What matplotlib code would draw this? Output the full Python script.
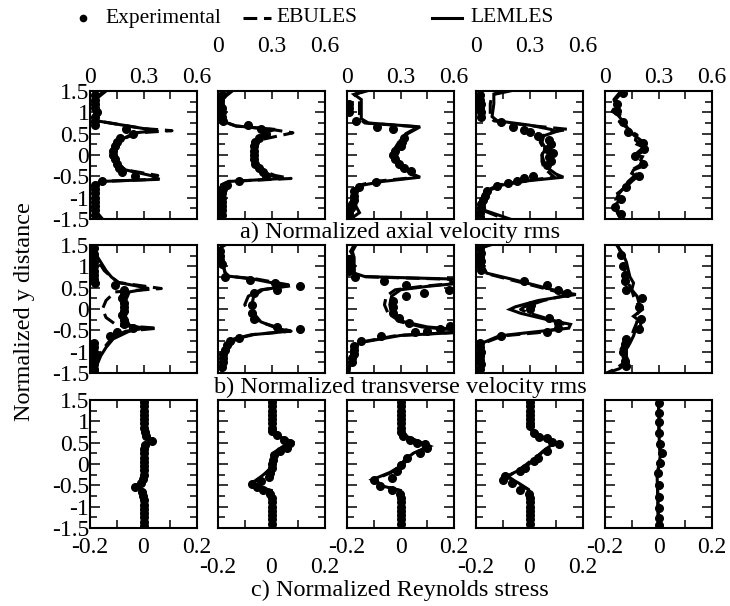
import matplotlib.pyplot as plt
from matplotlib.lines import Line2D
import numpy as np

plt.rcParams['font.family'] = ['Liberation Serif', 'DejaVu Serif']
plt.rcParams['font.size'] = 17
plt.rcParams['axes.linewidth'] = 1.5

# ---------------- a) axial velocity rms ----------------
a1_exp_y = [1.4, 1.3, 1.2, 1.1, 1.0, 0.9, 0.8, 0.7, 0.6, 0.5, 0.4, 0.3, 0.2, 0.1, 0.0,
            -0.1, -0.2, -0.3, -0.4, -0.5, -0.6, -0.7, -0.8, -0.9, -1.0, -1.1, -1.2, -1.3, -1.4]
a1_exp_x = [0.03, 0.03, 0.03, 0.03, 0.04, 0.03, 0.03, 0.03, 0.2, 0.24, 0.17, 0.15, 0.14, 0.13, 0.13,
            0.14, 0.15, 0.16, 0.18, 0.25, 0.07, 0.03, 0.03, 0.03, 0.03, 0.03, 0.03, 0.03, 0.03]
a1_mod_y = [1.5, 1.4, 1.3, 1.0, 0.8, 0.62, 0.57, 0.52, 0.35, 0.15, 0.0, -0.2, -0.35, -0.48, -0.57,
            -0.62, -0.7, -1.0, -1.3, -1.5]
a1_les_x = [0.09, 0.06, 0.03, 0.03, 0.04, 0.3, 0.38, 0.25, 0.17, 0.14, 0.14, 0.15, 0.2, 0.34, 0.39,
            0.06, 0.03, 0.02, 0.03, 0.07]
a1_ebu_x = [0.08, 0.05, 0.03, 0.03, 0.04, 0.3, 0.46, 0.27, 0.17, 0.14, 0.13, 0.15, 0.2, 0.38, 0.36,
            0.06, 0.03, 0.02, 0.03, 0.06]

a2_exp_y = a1_exp_y
a2_exp_x = [0.02, 0.01, 0.01, 0.02, 0.02, 0.02, 0.03, 0.17, 0.24, 0.27, 0.23, 0.21, 0.2, 0.2, 0.2,
            0.2, 0.21, 0.23, 0.25, 0.27, 0.12, 0.05, 0.03, 0.02, 0.02, 0.02, 0.02, 0.02, 0.02]
a2_mod_y = [1.5, 1.4, 1.3, 1.0, 0.8, 0.68, 0.6, 0.52, 0.35, 0.15, 0.0, -0.2, -0.35, -0.48, -0.55,
            -0.62, -0.7, -1.0, -1.3, -1.5]
a2_les_x = [0.08, 0.05, 0.02, 0.02, 0.02, 0.1, 0.32, 0.26, 0.22, 0.2, 0.2, 0.21, 0.23, 0.3, 0.37,
            0.06, 0.02, 0.01, 0.01, 0.02]
a2_ebu_x = [0.07, 0.04, 0.02, 0.02, 0.02, 0.1, 0.3, 0.42, 0.23, 0.21, 0.2, 0.21, 0.24, 0.32, 0.41,
            0.06, 0.02, 0.01, 0.01, 0.02]

a3_exp_y = [1.2, 1.1, 1.0, 0.8, 0.66, 0.6, 0.4, 0.3, 0.2, 0.1, 0.0, -0.1, -0.2, -0.3, -0.38,
            -0.63, -0.74, -0.85, -0.95, -1.05, -1.15, -1.25, -1.35, -1.45]
a3_exp_x = [0.01, 0.01, 0.01, 0.05, 0.17, 0.26, 0.32, 0.31, 0.3, 0.27, 0.26, 0.27, 0.29, 0.32, 0.36,
            0.16, 0.07, 0.04, 0.04, 0.04, 0.03, 0.02, 0.01, 0.01]
a3_mod_y = [1.5, 1.42, 1.3, 1.0, 0.85, 0.75, 0.66, 0.5, 0.3, 0.1, -0.1, -0.3, -0.45, -0.52, -0.62,
            -0.72, -0.9, -1.2, -1.35, -1.5]
a3_les_x = [0.11, 0.04, 0.08, 0.08, 0.08, 0.12, 0.41, 0.34, 0.3, 0.28, 0.28, 0.31, 0.37, 0.41, 0.2,
            0.07, 0.05, 0.05, 0.07, 0.02]
a3_ebu_x = [0.1, 0.04, 0.07, 0.07, 0.07, 0.1, 0.4, 0.33, 0.29, 0.26, 0.27, 0.3, 0.36, 0.4, 0.15,
            0.06, 0.04, 0.04, 0.04, 0.03]

a4_exp_y = [1.4, 1.3, 1.2, 1.1, 1.0, 0.9, 0.78, 0.66, 0.59, 0.55, 0.45, 0.35, 0.25, 0.15, 0.05,
            -0.05, -0.15, -0.23, -0.49, -0.55, -0.6, -0.66, -0.73, -0.85, -0.95, -1.05, -1.15,
            -1.25, -1.35, -1.45]
a4_exp_x = [0.02, 0.02, 0.03, 0.02, 0.03, 0.03, 0.14, 0.21, 0.27, 0.3, 0.35, 0.41, 0.42, 0.4, 0.43,
            0.41, 0.42, 0.4, 0.32, 0.27, 0.23, 0.18, 0.12, 0.06, 0.05, 0.04, 0.03, 0.03, 0.02, 0.02]
a4_mod_y = [1.5, 1.42, 1.2, 0.9, 0.8, 0.7, 0.6, 0.55, 0.45, 0.3, 0.15, 0.0, -0.15, -0.3, -0.45,
            -0.52, -0.6, -0.7, -0.85, -1.1, -1.3, -1.5]
a4_les_x = [0.19, 0.1, 0.1, 0.09, 0.12, 0.3, 0.42, 0.45, 0.38, 0.37, 0.39, 0.37, 0.38, 0.4, 0.45,
            0.49, 0.3, 0.15, 0.06, 0.04, 0.05, 0.19]
a4_ebu_x = [0.17, 0.09, 0.08, 0.08, 0.1, 0.28, 0.52, 0.44, 0.37, 0.36, 0.38, 0.37, 0.37, 0.38, 0.42,
            0.44, 0.28, 0.13, 0.05, 0.03, 0.04, 0.16]

a5_exp_y = [1.45, 1.2, 1.02, 0.78, 0.55, 0.28, 0.13, -0.02, -0.21, -0.49, -0.74, -1.02, -1.21, -1.38]
a5_exp_x = [0.1, 0.066, 0.066, 0.1, 0.13, 0.215, 0.22, 0.17, 0.215, 0.19, 0.12, 0.09, 0.055, 0.09]
a5_mod_y = [1.5, 1.4, 1.3, 1.15, 1.02, 0.9, 0.78, 0.68, 0.59, 0.47, 0.35, 0.25, 0.16, 0.05, 0.0,
            -0.04, -0.12, -0.23, -0.35, -0.43, -0.51, -0.62, -0.74, -0.9, -1.05, -1.2, -1.37, -1.48]
a5_les_x = [0.1, 0.08, 0.06, 0.07, 0.05, 0.08, 0.1, 0.11, 0.14, 0.16, 0.2, 0.18, 0.23, 0.2, 0.16,
            0.21, 0.2, 0.23, 0.16, 0.15, 0.18, 0.15, 0.12, 0.07, 0.085, 0.05, 0.085, 0.1]
a5_ebu_x = [0.09, 0.07, 0.05, 0.06, 0.04, 0.1, 0.08, 0.12, 0.13, 0.18, 0.17, 0.2, 0.21, 0.18, 0.17,
            0.19, 0.22, 0.2, 0.15, 0.17, 0.16, 0.13, 0.11, 0.08, 0.06, 0.06, 0.07, 0.09]

# ---------------- b) transverse velocity rms ----------------
b1_exp_y = [1.42, 1.3, 1.2, 1.1, 1.0, 0.9, 0.8, 0.7, 0.62, 0.57, 0.45, 0.35, 0.25, 0.15, 0.05,
            -0.05, -0.15, -0.25, -0.35, -0.44, -0.54, -0.63, -0.8, -0.9, -1.0, -1.1, -1.2, -1.3,
            -1.4, -1.48]
b1_exp_x = [0.02, 0.02, 0.02, 0.02, 0.02, 0.02, 0.02, 0.02, 0.03, 0.14, 0.19, 0.19, 0.18, 0.19, 0.19,
            0.19, 0.18, 0.19, 0.19, 0.24, 0.15, 0.11, 0.02, 0.02, 0.02, 0.02, 0.02, 0.02, 0.02, 0.02]
b1_mod_y = [1.5, 1.4, 1.3, 1.1, 0.9, 0.75, 0.62, 0.55, 0.48, 0.4, 0.2, 0.0, -0.2, -0.38, -0.45,
            -0.52, -0.7, -0.9, -1.1, -1.3, -1.5]
b1_les_x = [0.04, 0.02, 0.03, 0.06, 0.09, 0.12, 0.16, 0.25, 0.33, 0.22, 0.2, 0.2, 0.2, 0.22, 0.3,
            0.22, 0.13, 0.09, 0.06, 0.04, 0.03]
b1_ebu_x = [0.03, 0.02, 0.03, 0.05, 0.08, 0.12, 0.16, 0.28, 0.4, 0.14, 0.09, 0.07, 0.09, 0.15, 0.38,
            0.2, 0.12, 0.08, 0.05, 0.04, 0.03]

b2_exp_y = [1.35, 1.25, 1.15, 1.05, 0.75, 0.69, 0.61, 0.53, 0.45, 0.38, 0.1, -0.1, -0.24, -0.42,
            -0.48, -0.67, -0.75, -0.85, -0.95, -1.05, -1.15, -1.25, -1.35]
b2_exp_x = [0.01, 0.01, 0.01, 0.02, 0.04, 0.18, 0.32, 0.46, 0.33, 0.2, 0.19, 0.19, 0.2, 0.33,
            0.46, 0.12, 0.07, 0.05, 0.04, 0.03, 0.03, 0.03, 0.02]
b2_mod_y = [1.5, 1.4, 1.2, 1.0, 0.85, 0.77, 0.7, 0.6, 0.55, 0.45, 0.3, 0.1, -0.1, -0.3, -0.45,
            -0.52, -0.6, -0.7, -0.9, -1.1, -1.3, -1.5]
b2_les_x = [0.04, 0.0, 0.02, 0.03, 0.04, 0.06, 0.2, 0.32, 0.4, 0.25, 0.2, 0.19, 0.2, 0.24, 0.33,
            0.4, 0.2, 0.1, 0.06, 0.04, 0.03, 0.02]
b2_ebu_x = [0.03, 0.01, 0.02, 0.03, 0.04, 0.06, 0.22, 0.35, 0.42, 0.24, 0.17, 0.15, 0.18, 0.23, 0.35,
            0.41, 0.19, 0.09, 0.05, 0.04, 0.03, 0.02]

b3_exp_y = [1.18, 1.08, 0.98, 0.88, 0.76, 0.65, 0.57, 0.45, 0.38, 0.3, 0.18, 0.05, -0.09, -0.2,
            -0.32, -0.4, -0.48, -0.52, -0.55, -0.63, -0.75, -0.86, -0.96, -1.06, -1.16, -1.25]
b3_exp_x = [0.01, 0.01, 0.01, 0.01, 0.045, 0.21, 0.33, 0.57, 0.43, 0.33, 0.26, 0.26, 0.26, 0.29,
            0.35, 0.58, 0.52, 0.45, 0.38, 0.19, 0.08, 0.04, 0.04, 0.04, 0.03, 0.03]
b3_mod_y = [1.5, 1.35, 1.2, 1.0, 0.84, 0.76, 0.73, 0.7, 0.6, 0.53, 0.45, 0.3, 0.1, -0.1, -0.3,
            -0.42, -0.48, -0.55, -0.62, -0.79, -1.0, -1.2, -1.48]
b3_les_x = [0.04, 0.02, 0.04, 0.04, 0.04, 0.1, 0.35, 0.62, 0.62, 0.45, 0.3, 0.25, 0.24, 0.25, 0.32,
            0.45, 0.62, 0.62, 0.3, 0.07, 0.03, 0.02, 0.01]
b3_ebu_x = [0.05, 0.03, 0.04, 0.04, 0.04, 0.08, 0.3, 0.57, 0.6, 0.42, 0.27, 0.22, 0.21, 0.23, 0.3,
            0.42, 0.57, 0.6, 0.28, 0.06, 0.03, 0.02, 0.01]

b4_exp_y = [1.42, 1.32, 1.22, 1.12, 1.02, 0.92, 0.65, 0.57, 0.45, 0.38, 0.1, -0.01, -0.2, -0.32,
            -0.44, -0.55, -0.63, -0.8, -0.9, -1.0, -1.1, -1.2, -1.3, -1.4]
b4_exp_x = [0.02, 0.03, 0.02, 0.03, 0.02, 0.03, 0.27, 0.4, 0.46, 0.51, 0.31, 0.3, 0.41, 0.46,
            0.46, 0.4, 0.14, 0.02, 0.02, 0.03, 0.02, 0.02, 0.03, 0.02]
b4_mod_y = [1.5, 1.42, 1.2, 1.0, 0.84, 0.7, 0.55, 0.42, 0.34, 0.2, 0.05, -0.01, -0.1, -0.25, -0.36,
            -0.45, -0.55, -0.63, -0.79, -1.0, -1.2, -1.5]
b4_les_x = [0.08, 0.02, 0.04, 0.04, 0.06, 0.2, 0.34, 0.46, 0.56, 0.35, 0.22, 0.19, 0.25, 0.4, 0.53,
            0.52, 0.3, 0.13, 0.04, 0.03, 0.03, 0.02]
b4_ebu_x = [0.07, 0.02, 0.03, 0.04, 0.05, 0.18, 0.32, 0.44, 0.52, 0.38, 0.27, 0.25, 0.3, 0.42, 0.5,
            0.48, 0.36, 0.15, 0.05, 0.03, 0.02, 0.02]

b5_exp_y = [1.27, 1.0, 0.8, 0.65, 0.45, 0.26, 0.05, -0.24, -0.48, -0.71, -0.83, -1.0, -1.21, -1.33]
b5_exp_x = [0.09, 0.1, 0.11, 0.11, 0.12, 0.21, 0.19, 0.2, 0.19, 0.12, 0.11, 0.1, 0.11, 0.12]
b5_mod_y = [1.5, 1.3, 1.1, 0.92, 0.75, 0.61, 0.45, 0.3, 0.15, -0.01, -0.17, -0.3, -0.4, -0.5,
            -0.63, -0.8, -0.94, -1.1, -1.25, -1.4, -1.5]
b5_les_x = [0.065, 0.1, 0.12, 0.13, 0.14, 0.16, 0.15, 0.18, 0.19, 0.21, 0.16, 0.2, 0.2, 0.17,
            0.16, 0.14, 0.12, 0.12, 0.13, 0.08, 0.01]
b5_ebu_x = [0.07, 0.09, 0.1, 0.11, 0.12, 0.13, 0.15, 0.16, 0.18, 0.2, 0.17, 0.18, 0.17, 0.16,
            0.15, 0.11, 0.09, 0.1, 0.11, 0.06, 0.01]

# ---------------- c) Reynolds stress ----------------
c1_exp_y = [1.45, 1.35, 1.25, 1.15, 1.05, 0.95, 0.85, 0.75, 0.65, 0.55, 0.45, 0.35, 0.25, 0.15,
            0.05, -0.05, -0.15, -0.25, -0.35, -0.45, -0.55, -0.65, -0.75, -0.85, -0.95, -1.05,
            -1.15, -1.25, -1.35, -1.45]
c1_exp_x = [0.0, 0.0, 0.0, 0.0, 0.0, 0.0, 0.002, 0.005, 0.008, 0.03, 0.005, 0.002, 0.002, 0.002,
            0.001, 0.0, 0.0, 0.0, -0.002, -0.01, -0.03, -0.005, -0.002, 0.0, 0.0, 0.0, 0.0, 0.0,
            0.0, 0.0]
c1_mod_y = [1.5, 0.8, 0.6, 0.52, 0.45, 0.0, -0.45, -0.52, -0.6, -1.5]
c1_les_x = [0.0, 0.0, 0.01, 0.03, 0.005, 0.003, -0.01, -0.03, -0.005, 0.0]
c1_ebu_x = [0.0, 0.0, 0.008, 0.025, 0.004, 0.002, -0.008, -0.026, -0.004, 0.0]

c2_exp_y = [1.45, 1.35, 1.25, 1.15, 1.05, 0.95, 0.85, 0.78, 0.69, 0.57, 0.5, 0.38, 0.3, 0.22,
            0.1, 0.0, -0.1, -0.2, -0.3, -0.4, -0.48, -0.55, -0.6, -0.7, -0.8, -0.9, -1.0, -1.1,
            -1.2, -1.3, -1.4]
c2_exp_x = [0.0, 0.0, 0.0, 0.0, 0.0, 0.0, 0.0, 0.002, 0.02, 0.045, 0.07, 0.057, 0.03, 0.01,
            0.005, 0.0, 0.0, -0.005, -0.01, -0.04, -0.074, -0.055, -0.03, -0.005, 0.0, 0.0, 0.0,
            0.0, 0.0, 0.0, 0.0]
c2_mod_y = [1.5, 0.8, 0.7, 0.52, 0.4, 0.28, 0.1, -0.1, -0.3, -0.45, -0.52, -0.62, -0.8, -1.5]
c2_les_x = [0.0, 0.0, 0.008, 0.076, 0.04, 0.012, 0.003, 0.0, -0.04, -0.074, -0.06, 0.0, 0.0, 0.0]
c2_ebu_x = [0.0, 0.0, 0.01, 0.07, 0.045, 0.015, 0.002, -0.005, -0.035, -0.07, -0.055, -0.005,
            0.0, 0.0]

c3_exp_y = [1.45, 1.35, 1.25, 1.15, 1.05, 0.95, 0.85, 0.75, 0.65, 0.57, 0.5, 0.46, 0.38, 0.26,
            0.14, -0.02, -0.17, -0.33, -0.37, -0.52, -0.6, -0.7, -0.8, -0.9, -1.0, -1.1, -1.2,
            -1.3, -1.4]
c3_exp_x = [0.0, 0.0, 0.0, 0.0, 0.0, 0.0, 0.0, 0.002, 0.01, 0.036, 0.06, 0.09, 0.1, 0.074, 0.024,
            0.0, -0.014, -0.032, -0.1, -0.076, -0.032, -0.003, 0.0, 0.0, 0.0, 0.0, 0.0, 0.0, 0.0]
c3_mod_y = [1.5, 0.8, 0.68, 0.42, 0.26, 0.1, -0.05, -0.2, -0.37, -0.52, -0.62, -0.8, -1.5]
c3_les_x = [0.0, 0.0, 0.01, 0.11, 0.05, 0.015, 0.0, -0.04, -0.107, -0.065, 0.0, 0.0, 0.0]
c3_ebu_x = [0.0, 0.0, 0.012, 0.1, 0.06, 0.025, 0.005, -0.035, -0.1, -0.06, -0.003, 0.0, 0.0]

c4_exp_y = [1.45, 1.35, 1.25, 1.15, 1.05, 0.95, 0.88, 0.72, 0.64, 0.6, 0.52, 0.48, 0.3, 0.14,
            0.06, -0.1, -0.17, -0.29, -0.37, -0.45, -0.6, -0.7, -0.8, -0.9, -1.0, -1.1, -1.2,
            -1.3, -1.4]
c4_exp_x = [0.0, 0.0, 0.0, 0.0, 0.0, 0.0, 0.002, 0.015, 0.034, 0.065, 0.084, 0.11, 0.065, 0.03,
            0.015, -0.016, -0.035, -0.09, -0.1, -0.066, -0.035, -0.002, 0.0, 0.0, 0.0, 0.0, 0.0,
            0.0, 0.0]
c4_mod_y = [1.5, 0.9, 0.8, 0.48, 0.3, 0.15, -0.05, -0.29, -0.45, -0.6, -0.8, -1.5]
c4_les_x = [0.0, 0.0, 0.005, 0.09, 0.05, 0.025, -0.01, -0.085, -0.04, -0.003, 0.0, 0.0]
c4_ebu_x = [0.0, 0.0, 0.006, 0.08, 0.055, 0.02, -0.02, -0.08, -0.045, -0.005, 0.0, 0.0]

c5_exp_y = [1.42, 1.2, 0.99, 0.72, 0.48, 0.25, 0.02, -0.22, -0.49, -0.77, -1.04, -1.27, -1.43]
c5_exp_x = [0.0, 0.0, 0.0, 0.002, 0.005, 0.012, 0.005, -0.003, 0.0, 0.0, 0.0, 0.0, 0.0]
c5_mod_y = [1.5, 0.5, 0.25, 0.0, -0.3, -1.5]
c5_les_x = [0.0, 0.003, 0.008, 0.002, -0.005, 0.0]
c5_ebu_x = [0.0, 0.002, 0.006, 0.001, -0.004, 0.0]

rows = [
    [(a1_exp_y, a1_exp_x, a1_mod_y, a1_les_x, a1_ebu_x),
     (a2_exp_y, a2_exp_x, a2_mod_y, a2_les_x, a2_ebu_x),
     (a3_exp_y, a3_exp_x, a3_mod_y, a3_les_x, a3_ebu_x),
     (a4_exp_y, a4_exp_x, a4_mod_y, a4_les_x, a4_ebu_x),
     (a5_exp_y, a5_exp_x, a5_mod_y, a5_les_x, a5_ebu_x)],
    [(b1_exp_y, b1_exp_x, b1_mod_y, b1_les_x, b1_ebu_x),
     (b2_exp_y, b2_exp_x, b2_mod_y, b2_les_x, b2_ebu_x),
     (b3_exp_y, b3_exp_x, b3_mod_y, b3_les_x, b3_ebu_x),
     (b4_exp_y, b4_exp_x, b4_mod_y, b4_les_x, b4_ebu_x),
     (b5_exp_y, b5_exp_x, b5_mod_y, b5_les_x, b5_ebu_x)],
    [(c1_exp_y, c1_exp_x, c1_mod_y, c1_les_x, c1_ebu_x),
     (c2_exp_y, c2_exp_x, c2_mod_y, c2_les_x, c2_ebu_x),
     (c3_exp_y, c3_exp_x, c3_mod_y, c3_les_x, c3_ebu_x),
     (c4_exp_y, c4_exp_x, c4_mod_y, c4_les_x, c4_ebu_x),
     (c5_exp_y, c5_exp_x, c5_mod_y, c5_les_x, c5_ebu_x)],
]

row_titles = ['a) Normalized axial velocity rms',
              'b) Normalized transverse velocity rms',
              'c) Normalized Reynolds stress']
rms_ticks = [0, 0.15, 0.3, 0.45, 0.6]
rms_labels = ['0', '', '0.3', '', '0.6']
rs_ticks = [-0.2, -0.1, 0, 0.1, 0.2]
rs_labels = ['-0.2', '', '0', '', '0.2']
y_ticks = [-1.5, -1, -0.5, 0, 0.5, 1, 1.5]
y_labels = ['-1.5', '-1', '-0.5', '0', '0.5', '1', '1.5']
y_minor = [-1.25, -0.75, -0.25, 0.25, 0.75, 1.25]

W, H = 730, 606
fig = plt.figure(figsize=(W / 100, H / 100), dpi=100)

col_left = [90, 218, 347, 476, 605]
row_top = [91, 245, 400]
pw, ph = 107, 128

for r in range(3):
    for c in range(5):
        ax = fig.add_axes([col_left[c] / W, 1 - (row_top[r] + ph) / H, pw / W, ph / H])
        ey, ex, my, lx, bx = rows[r][c]
        ax.plot(lx, my, '-', color='black', lw=2.2, solid_joinstyle='miter')
        ax.plot(bx, my, '--', color='black', lw=2.2, dashes=(4.5, 2.2))
        ax.plot(ex, ey, 'o', color='black', ms=5.5)
        ax.set_ylim(-1.5, 1.5)
        ax.set_yticks(y_ticks)
        ax.set_yticks(y_minor, minor=True)
        if c == 0:
            ax.set_yticklabels(y_labels)
        else:
            ax.set_yticklabels([])
        ax.tick_params(axis='y', which='major', direction='in', left=True, right=True,
                       length=7, width=1.1, pad=0.5)
        ax.tick_params(axis='y', which='minor', direction='in', left=True, right=True,
                       length=5, width=1.1)
        if r < 2:
            ax.set_xlim(0, 0.6)
            ax.set_xticks(rms_ticks)
        else:
            ax.set_xlim(-0.2, 0.2)
            ax.set_xticks(rs_ticks)
        ax.tick_params(axis='x', direction='in', top=True, bottom=True, length=6, width=1.1)
        if r == 0:
            ax.set_xticklabels(rms_labels)
            ax.tick_params(axis='x', labeltop=True, labelbottom=False,
                           pad=2.5 if c % 2 == 0 else 24.5)
        elif r == 1:
            ax.set_xticklabels([])
        else:
            ax.set_xticklabels(rs_labels)
            ax.tick_params(axis='x', pad=6.5 if c % 2 == 0 else 21)

for r, t in enumerate(row_titles):
    fig.text(400 / W, 1 - [232, 387, 590][r] / H, t, ha='center', va='center', fontsize=17.5)

fig.text(25 / W, 1 - 312 / H, 'Normalized y distance', rotation=90, ha='center', va='center',
         fontsize=17.5)

# legend along the top
ly = 1 - 18 / H
fig.add_artist(Line2D([83 / W], [ly], marker='o', color='black', ms=4.5, ls='none'))
fig.text(105 / W, ly, 'Experimental', ha='left', va='center', fontsize=15.5)
fig.add_artist(Line2D([243 / W, 271 / W], [ly, ly], color='black', lw=2.2, dashes=(4.5, 2.2)))
fig.text(276 / W, ly, 'EBULES', ha='left', va='center', fontsize=15.5)
fig.add_artist(Line2D([432 / W, 462 / W], [ly, ly], color='black', lw=2.2))
fig.text(470 / W, ly, 'LEMLES', ha='left', va='center', fontsize=15.5)

fig.savefig('out.png', dpi=100)
